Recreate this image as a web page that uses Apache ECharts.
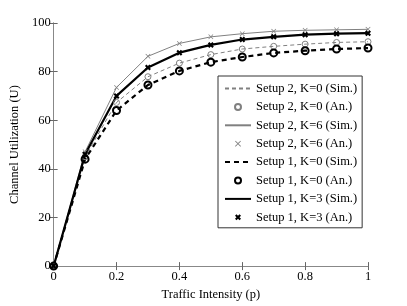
<!DOCTYPE html>
<html><head><meta charset="utf-8">
<script src="https://cdn.jsdelivr.net/npm/echarts@6/dist/echarts.min.js"></script>
<style>html,body{margin:0;padding:0;background:#fff}#c{width:407px;height:306px}</style>
</head><body><div id="c"></div>
<script>
const xVals = [0, 0.1, 0.2, 0.3, 0.4, 0.5, 0.6, 0.7, 0.8, 0.9, 1.0];
const s2k0 = [0, 45, 67.3, 77.9, 83.5, 87.0, 89.3, 90.4, 91.3, 92.0, 92.3];
const s2k6 = [0, 47, 73.5, 86.3, 91.6, 94.3, 95.6, 96.6, 97.0, 97.2, 97.4];
const s1k0 = [0, 44, 64.0, 74.5, 80.3, 83.9, 86.0, 87.7, 88.6, 89.3, 89.7];
const s1k3 = [0, 46, 70.0, 81.7, 87.8, 91.0, 93.2, 94.3, 95.2, 95.6, 95.8];
const xTicks = ['0', '0.2', '0.4', '0.6', '0.8', '1'];
const yTicks = ['0', '20', '40', '60', '80', '100'];
const names = ['Setup 2, K=0 (Sim.)', 'Setup 2, K=0 (An.)', 'Setup 2, K=6 (Sim.)', 'Setup 2, K=6 (An.)',
  'Setup 1, K=0 (Sim.)', 'Setup 1, K=0 (An.)', 'Setup 1, K=3 (Sim.)', 'Setup 1, K=3 (An.)'];

const pts = arr => xVals.map((x, i) => [x, arr[i]]);
const thinX = 'path://M0,1 L1,0 L5,4 L9,0 L10,1 L6,5 L10,9 L9,10 L5,6 L1,10 L0,9 L4,5 Z';
const thickX = 'path://M0,2.5 L2.5,0 L5,2.5 L7.5,0 L10,2.5 L7.5,5 L10,7.5 L7.5,10 L5,7.5 L2.5,10 L0,7.5 L2.5,5 Z';
const font = 'Liberation Serif';
const gray = '#808080';

function lineS(name, data, color, width, type) {
  return {name, type: 'line', data: pts(data), symbol: 'none', z: 3,
    lineStyle: {color, width, type}, itemStyle: {color}};
}
function scatS(name, data, symbol, size, color, fill, bw) {
  return {name, type: 'scatter', data: pts(data), symbol, symbolSize: size, z: 4,
    itemStyle: {color: fill, borderColor: color, borderWidth: bw, opacity: 1}};
}

const chart = echarts.init(document.getElementById('c'));
chart.setOption({
  animation: false,
  backgroundColor: '#fff',
  grid: {left: 53, right: 39, top: 23, bottom: 35},
  xAxis: [{
    type: 'value', min: 0, max: 1, interval: 0.2,
    name: 'Traffic Intensity (p)', nameLocation: 'middle', nameGap: 18,
    nameTextStyle: {fontFamily: font, fontSize: 12.5, color: '#000'},
    axisLine: {show: true, onZero: false, lineStyle: {color: '#111', width: 1}},
    axisTick: {show: true, inside: true, length: 4, lineStyle: {color: '#666'}},
    axisLabel: {fontFamily: font, fontSize: 12.5, color: '#000', margin: 4,
      formatter: v => xTicks[Math.round(v / 0.2)]},
    splitLine: {show: false}
  }, {
    type: 'value', min: 0, max: 1, interval: 0.2, position: 'top',
    axisLine: {show: true, lineStyle: {color: '#888', width: 1}},
    axisTick: {show: true, inside: true, length: 4, lineStyle: {color: '#666'}},
    axisLabel: {show: false}, splitLine: {show: false}
  }],
  yAxis: [{
    type: 'value', min: 0, max: 100, interval: 20,
    name: 'Channel Utilization (U)', nameLocation: 'middle', nameGap: 21,
    nameTextStyle: {fontFamily: font, fontSize: 12.5, color: '#000'},
    axisLine: {show: true, lineStyle: {color: '#888', width: 1}},
    axisTick: {show: true, inside: true, length: 4, lineStyle: {color: '#666'}},
    axisLabel: {fontFamily: font, fontSize: 12.5, color: '#000', margin: 3,
      formatter: v => yTicks[Math.round(v / 20)]},
    splitLine: {show: false}
  }, {
    type: 'value', min: 0, max: 100, interval: 20, position: 'right',
    axisLine: {show: true, lineStyle: {color: '#888', width: 1}},
    axisTick: {show: true, inside: true, length: 4, lineStyle: {color: '#666'}},
    axisLabel: {show: false}, splitLine: {show: false}
  }],
  legend: {
    orient: 'vertical', left: 218, top: 76,
    padding: [6, 5, 4, 6], itemGap: 5.4, itemWidth: 26, itemHeight: 6,
    backgroundColor: '#fff', borderColor: '#333', borderWidth: 1, borderRadius: 0,
    textStyle: {fontFamily: font, fontSize: 12.5, color: '#000'},
    data: names.map((n, i) => i % 2 === 0 ? {name: n, itemStyle: {opacity: 0}} : {name: n})
  },
  series: [
    lineS(names[0], s2k0, gray, 1, [4, 3]),
    scatS(names[1], s2k0, 'circle', 6, gray, 'rgba(255,255,255,0)', 1),
    lineS(names[2], s2k6, gray, 1, 'solid'),
    scatS(names[3], s2k6, thinX, 5, gray, gray, 0),
    lineS(names[4], s1k0, '#000', 2.2, [5, 4]),
    scatS(names[5], s1k0, 'circle', 7, '#000', 'rgba(255,255,255,0)', 2),
    lineS(names[6], s1k3, '#000', 2.2, 'solid'),
    scatS(names[7], s1k3, thickX, 6, '#000', '#000', 0)
  ]
});
</script></body></html>
